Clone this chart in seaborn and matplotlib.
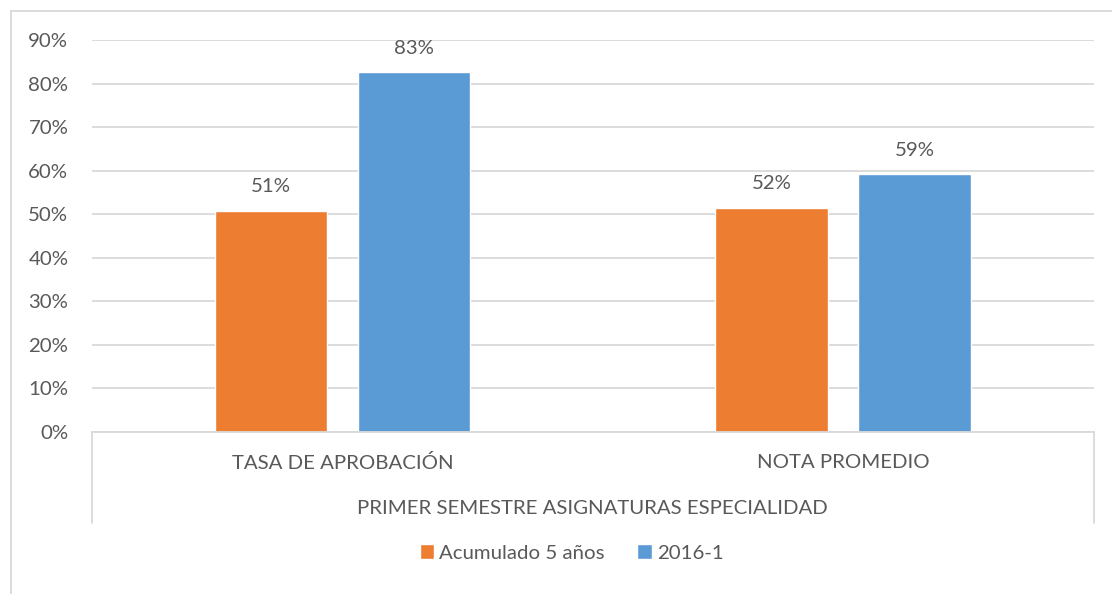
import pandas as pd
import matplotlib.pyplot as plt
import seaborn as sns
from matplotlib.patches import Patch

categorias = ["TASA DE APROBACIÓN", "NOTA PROMEDIO"]
grupo = "PRIMER SEMESTRE ASIGNATURAS ESPECIALIDAD"
series = ["Acumulado 5 años", "2016-1"]
acumulado = [0.508, 0.515]
semestre_2016 = [0.826, 0.592]
etiquetas = [["51%", "52%"], ["83%", "59%"]]
yticks = [0, 0.1, 0.2, 0.3, 0.4, 0.5, 0.6, 0.7, 0.8, 0.9]

colores = ["#ED7D31", "#5B9BD5"]
gris = "#595959"
linea = "#D9D9D9"
fs = 14.7

df = pd.DataFrame({
    "categoria": categorias * 2,
    "serie": [series[0]] * 2 + [series[1]] * 2,
    "valor": acumulado + semestre_2016,
})

sns.set_style("white")
plt.rcParams['font.family'] = ['Lato', 'DejaVu Sans']
plt.rcParams['font.size'] = fs

fig = plt.figure(figsize=(11.12, 5.94), dpi=100)
ax = fig.add_axes([0.0827, 0.2727, 0.9008, 0.66])

sns.barplot(data=df, x="categoria", y="valor", hue="serie", order=categorias,
            hue_order=series, palette=colores, width=0.571, gap=0.213,
            saturation=1, ax=ax, legend=False)

ax.set_xlim(-0.5, 1.5)
ax.set_ylim(0, 0.9)
ax.set_yticks(yticks)
ax.set_yticklabels([f"{int(round(t * 100))}%" for t in yticks], color=gris)
ax.yaxis.grid(True, color=linea, linewidth=1.3)
ax.set_axisbelow(True)
ax.tick_params(axis="y", length=0, pad=17)
ax.tick_params(axis="x", length=0, pad=15.5, colors=gris)
ax.set_xlabel("")
ax.set_ylabel("")
for s in ["top", "right", "left"]:
    ax.spines[s].set_visible(False)
ax.spines["bottom"].set_color(linea)
ax.spines["bottom"].set_linewidth(1.3)

for cont, labs in zip(ax.containers, etiquetas):
    ax.bar_label(cont, labels=labs, padding=11, color=gris, fontsize=fs)

# ejes de categoría de varios niveles
ax.text(0.5, -0.194, grupo, transform=ax.transAxes, ha="center", va="center",
        color=gris, fontsize=fs)
for xx in [0, 1]:
    ax.plot([xx, xx], [0, -0.232], transform=ax.transAxes, color=linea,
            linewidth=1.3, clip_on=False)

handles = [Patch(facecolor=c, label=s) for c, s in zip(colores, series)]
leg = fig.legend(handles=handles, loc="center", bbox_to_anchor=(0.514, 0.069),
                 ncol=2, frameon=False, handlelength=0.7, handleheight=0.7,
                 handletextpad=0.25, columnspacing=1.6, fontsize=fs)
for t in leg.get_texts():
    t.set_color(gris)

# marco del gráfico
fig.add_artist(plt.Line2D([0.0099, 0.0099], [0, 0.9815], color=linea, linewidth=1.3))
fig.add_artist(plt.Line2D([0.0099, 1], [0.9815, 0.9815], color=linea, linewidth=1.3))

fig.savefig("out.png", dpi=100)
